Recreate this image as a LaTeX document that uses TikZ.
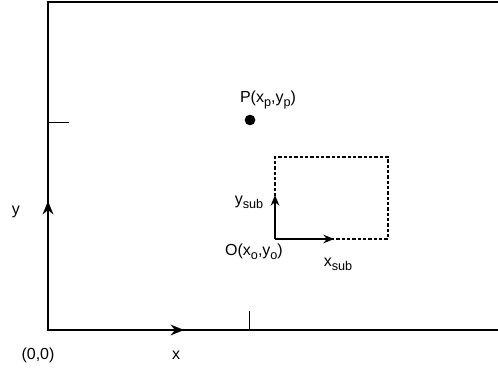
\documentclass[tikz,border=0pt]{standalone}
\usepackage{fontspec}
\setmainfont{Liberation Sans}
\usetikzlibrary{arrows.meta, positioning}
\newcommand\sbs[1]{\raisebox{-2.8pt}{\fontsize{9.5}{10}\selectfont #1}}

\begin{document}
\begin{tikzpicture}[
    x=0.75pt, y=-0.75pt,
    >={Stealth[length=10pt, width=8pt]},
    frame/.style={draw, line width=1.8pt},
    axis/.style={draw, ->, line width=1.8pt},
    tick/.style={draw, line width=0.6pt},
    subaxis/.style={draw, ->, line width=1.2pt, >={Stealth[length=8pt, width=6.5pt]}},
    subbox/.style={draw, line width=0.9pt, dash pattern=on 2.5pt off 1.5pt},
    dot/.style={circle, fill, minimum size=8pt, inner sep=0pt},
    lbl/.style={font=\fontsize{12}{14}\selectfont, inner sep=1pt}
]
\useasboundingbox (0,0) rectangle (498,370);

% rahmen
\coordinate (o) at (48,330);
\coordinate (tl) at (48,2);
\coordinate (tr) at (498,2);
\coordinate (br) at (498,330);
\draw[frame] (tr) -- (tl) -- (o) -- (br);

% achsen
\coordinate (xend) at (184,330);
\coordinate (yend) at (48,201);
\draw[axis] (o) -- (xend);
\draw[axis] (o) -- (yend);
\node[lbl] (xl) at (176,355) {x};
\node[lbl] (yl) at (16,212) {y};
\node[lbl] (ol) at (38,355) {(0,0)};

% markierungen
\coordinate (ty1) at (48,122);
\coordinate (ty2) at (69,122);
\coordinate (tx1) at (249,330);
\coordinate (tx2) at (249,311);
\draw[tick] (ty1) -- (ty2);
\draw[tick] (tx1) -- (tx2);

% punkt P
\node[dot] (p) at (250,120) {};
\node[lbl] (pl) at (268,100) {P(x\sbs{p},y\sbs{p})};

% teilbereich
\coordinate (sub) at (275,239);
\coordinate (subtr) at (388,157);
\draw[subbox] (sub) rectangle (subtr);
\coordinate (xs) at (334,239);
\coordinate (ys) at (275,195);
\draw[subaxis] (sub) -- (xs);
\draw[subaxis] (sub) -- (ys);
\node[lbl] (ysl) at (249,202) {y\sbs{sub}};
\node[lbl] (xsl) at (338,264) {x\sbs{sub}};
\node[lbl] (sol) at (254,252) {O(x\sbs{o},y\sbs{o})};

\end{tikzpicture}
\end{document}
